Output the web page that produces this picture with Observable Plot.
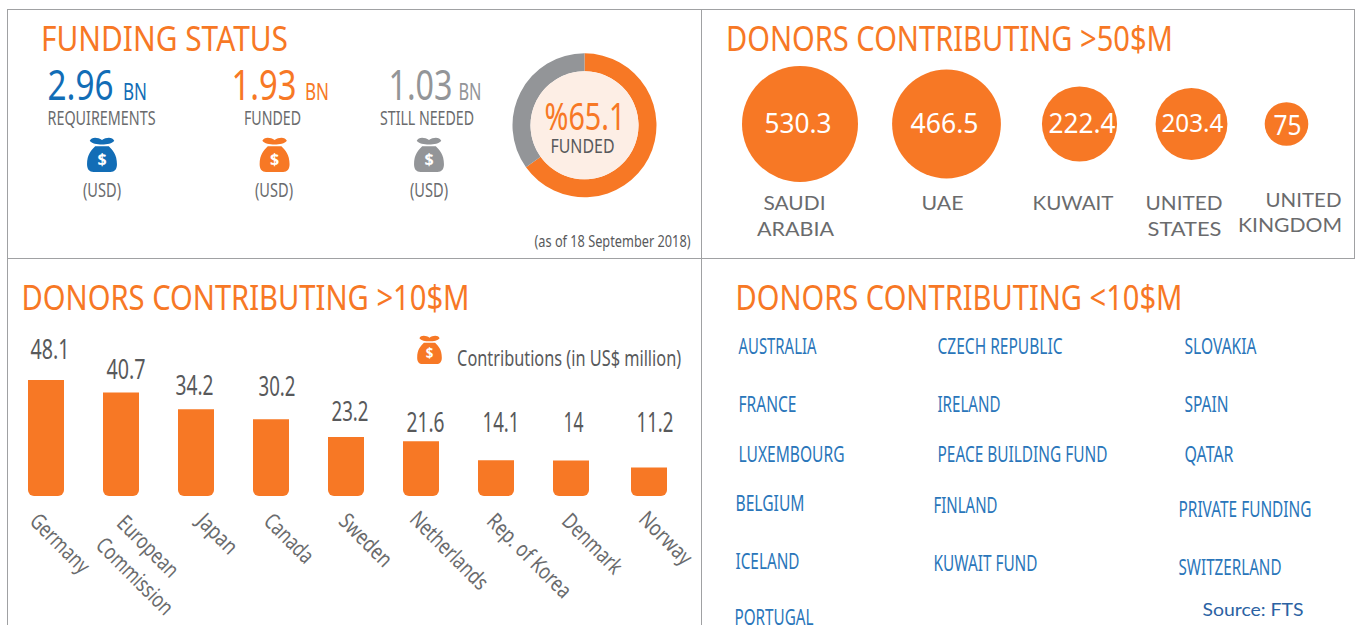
<!DOCTYPE html>
<html>
<head>
<meta charset="utf-8">
<script src="https://cdn.jsdelivr.net/npm/d3@7"></script>
<script src="https://cdn.jsdelivr.net/npm/@observablehq/plot@0.6"></script>
<style>
html,body{margin:0;padding:0;background:#fff;width:1356px;height:625px;overflow:hidden}
#page{position:relative;width:1356px;height:625px}
.line{position:absolute;background:#a0a1a3}
svg{position:absolute;left:0;top:0;background:transparent}
</style>
</head>
<body>
<div id="page">
<div class="line" style="left:7px;top:9px;width:1347px;height:1px"></div>
<div class="line" style="left:7px;top:258px;width:1347px;height:1px"></div>
<div class="line" style="left:7px;top:9px;width:1px;height:616px"></div>
<div class="line" style="left:701px;top:9px;width:1px;height:616px"></div>
<div class="line" style="left:1354px;top:9px;width:1px;height:250px"></div>
</div>
<script>
// ---- data ----
const kpiValues = ["2.96", "1.93", "1.03"];
const kpiLabels = ["REQUIREMENTS", "FUNDED", "STILL NEEDED"];
const fundedShare = [65.1, 34.9];
const largeDonors = ["SAUDI ARABIA", "UAE", "KUWAIT", "UNITED STATES", "UNITED KINGDOM"];
const largeAmounts = [530.3, 466.5, 222.4, 203.4, 75];
const midDonors = ["Germany", "European Commission", "Japan", "Canada", "Sweden", "Netherlands", "Rep. of Korea", "Denmark", "Norway"];
const midLabels = ["48.1", "40.7", "34.2", "30.2", "23.2", "21.6", "14.1", "14", "11.2"];
const midBarLengths = [45.7, 40.7, 34.2, 30.2, 23.2, 21.6, 14.1, 14, 11.2];
const smallDonors = ["AUSTRALIA", "CZECH REPUBLIC", "SLOVAKIA", "FRANCE", "IRELAND", "SPAIN", "LUXEMBOURG", "PEACE BUILDING FUND", "QATAR", "BELGIUM", "FINLAND", "PRIVATE FUNDING", "ICELAND", "KUWAIT FUND", "SWITZERLAND", "PORTUGAL"];

// ---- styles and layout ----
const ORANGE = "#f77825", BLUE = "#126db6", GREY = "#939598", TEXT = "#6a6b6d", DARK = "#58595b", LIST = "#2a76ba";
const BODY = "'Noto Sans'", WIDE = "Lato";

// text fitted to a given width: the condensed look of the original face
function fit(w) {
  return (index, scales, values, dims, ctx, next) => {
    const g = next(index, scales, values, dims, ctx);
    if (w) g.querySelectorAll("text").forEach(t => {
      t.setAttribute("textLength", w);
      t.setAttribute("lengthAdjust", "spacingAndGlyphs");
    });
    return g;
  };
}
function note(text, x, y, size, fill, w, o = {}) {
  return Plot.text([text], {
    text: d => d, frameAnchor: "top-left", dx: x - 1, dy: y - 1, lineAnchor: "bottom",
    textAnchor: o.anchor || "start", fontSize: size, fill, fontFamily: o.font || BODY,
    fontWeight: o.weight || 400, render: fit(w)
  });
}
// money bag as a custom dot symbol
const bagSymbol = {
  draw(c, size) {
    const R = Math.sqrt(size / Math.PI), p = (x, y) => [x * R, y * R];
    c.moveTo(...p(-.72, -.84));
    c.bezierCurveTo(...p(-.62, -1.08), ...p(-.25, -1.06), ...p(0, -.88));
    c.bezierCurveTo(...p(.25, -1.06), ...p(.62, -1.08), ...p(.72, -.84));
    c.bezierCurveTo(...p(.6, -.66), ...p(.3, -.62), ...p(0, -.62));
    c.bezierCurveTo(...p(-.3, -.62), ...p(-.6, -.66), ...p(-.72, -.84));
    c.closePath();
    c.moveTo(...p(-.4, -.52));
    c.lineTo(...p(.4, -.52));
    c.bezierCurveTo(...p(.62, -.3), ...p(.88, -.05), ...p(.88, .55));
    c.bezierCurveTo(...p(.88, .85), ...p(.74, 1), ...p(.5, 1));
    c.lineTo(...p(-.5, 1));
    c.bezierCurveTo(...p(-.74, 1), ...p(-.88, .85), ...p(-.88, .55));
    c.bezierCurveTo(...p(-.88, -.05), ...p(-.62, -.3), ...p(-.4, -.52));
    c.closePath();
  }
};
function bag(cx, cy, r, fill) {
  return [
    Plot.dot([0], {frameAnchor: "top-left", dx: cx - .5, dy: cy - .5, r, fill, stroke: "none", symbol: bagSymbol}),
    note("$", cx + .5, cy + r * .62, r * .95, "#fff", r * .54, {anchor: "middle", weight: 700})
  ];
}

// donut drawn from fundedShare with d3 arcs inside a Plot mark
function donut(cx, cy, outer, inner) {
  return () => {
    const g = d3.create("svg:g").attr("transform", `translate(${cx},${cy})`);
    g.selectAll("path").data(d3.pie().sort(null)(fundedShare)).join("path")
      .attr("d", d3.arc().innerRadius(inner).outerRadius(outer))
      .attr("fill", (d, i) => [ORANGE, GREY][i]);
    g.append("circle").attr("r", inner).attr("fill", "#fdeee5");
    return g.node();
  };
}

const bubbleRows = largeDonors.map((name, i) => ({name, value: largeAmounts[i]}));
const bubbleX = [799.5, 946, 1079, 1191, 1286];
const bubbleY = 123.5;
const bubbleText = [[765, 67, 28, 133], [911, 68, 28, 133], [1049, 67, 28, 133], [1162, 62, 25, 132], [1274, 28, 28, 135]];

const barRows = midDonors.map((name, i) => ({name, length: midBarLengths[i], label: midLabels[i]}));
// offsets of the value labels from the bar tops, and of the slanted names from the bar feet
const labelDx = [3.5, 4.5, -2, 5.5, 3.5, 4, 4.5, 2, 8.5];
const labelDy = [-21, -14, -15, -24, -17, -10, -29, -29, -36];
const labelW  = [39, 39, 38, 37, 37, 38, 37, 20, 37];
const slant = [["Germany", -18, 26, 74], ["European", -6, 28, 77], ["Commission", -27, 50, 99], ["Japan", -1, 26, 47], ["Canada", -9, 26, 60], ["Sweden", -9, 26, 65], ["Netherlands", -13, 24, 100], ["Rep. of Korea", -11, 26, 109], ["Denmark", -11, 26, 75], ["Norway", -9, 24, 65]];
const slantBar = ["Germany", "European Commission", "European Commission", "Japan", "Canada", "Sweden", "Netherlands", "Rep. of Korea", "Denmark", "Norway"];

const listPlace = [[739, 354, 78], [938, 354, 125], [1185, 354, 72], [739, 412, 58], [938, 412, 63], [1185, 412, 44], [739, 462, 106], [938, 462, 170], [1185, 462, 49], [736, 511, 69], [934, 513, 64], [1179, 517, 133], [736, 569, 64], [934, 571, 104], [1179, 575, 103], [735, 625, 79]];

const chart = Plot.plot({
  width: 1356, height: 625, margin: 0,
  style: {background: "transparent"},
  x: {type: "band", domain: midDonors, range: [28, 664], paddingInner: .52, paddingOuter: 0, align: 0, axis: null},
  y: {domain: [0, 50], range: [496, 369], axis: null},
  r: {type: "sqrt", domain: [0, 530.3], range: [0, 58]},
  marks: [
    // funding status
    note("FUNDING STATUS", 41.5, 51, 34, ORANGE, 247),
    note(kpiValues[0], 48, 100, 42, BLUE, 66),
    note("BN", 123.5, 100, 24, BLUE, 24),
    note(kpiLabels[0], 48, 125, 20, TEXT, 108),
    ...bag(102, 155, 17, BLUE),
    note("(USD)", 83.5, 197, 19, TEXT, 38),
    note(kpiValues[1], 232, 100, 42, ORANGE, 65),
    note("BN", 305.5, 100, 24, ORANGE, 24),
    note(kpiLabels[1], 244.5, 125, 20, TEXT, 57),
    ...bag(274.6, 155, 17, ORANGE),
    note("(USD)", 255.5, 197, 19, TEXT, 38),
    note(kpiValues[2], 389, 100, 42, GREY, 64),
    note("BN", 459, 100, 24, GREY, 23),
    note(kpiLabels[2], 380.5, 125, 20, TEXT, 94),
    ...bag(429, 155, 17, GREY),
    note("(USD)", 410.5, 197, 19, TEXT, 38),
    donut(584.5, 125.3, 72, 54),
    note("%" + fundedShare[0], 545, 130, 38, ORANGE, 81),
    note("FUNDED", 551, 153, 20, DARK, 64),
    note("(as of 18 September 2018)", 535, 247, 16, DARK, 156),

    // donors > 50
    note("DONORS CONTRIBUTING >50$M", 726.5, 51, 34, ORANGE, 447),
    ...bubbleRows.map((row, i) => Plot.dot([row], {frameAnchor: "top-left", dx: bubbleX[i], dy: bubbleY, r: "value", fill: ORANGE})),
    ...bubbleRows.map((row, i) => note(String(row.value), bubbleText[i][0], bubbleText[i][3], bubbleText[i][2], "#fff", bubbleText[i][1])),
    note("SAUDI", 764, 210, 20, TEXT, 62, {font: WIDE}),
    note("ARABIA", 757.5, 236, 20, TEXT, 77, {font: WIDE}),
    note("UAE", 922, 210, 20, TEXT, 42, {font: WIDE}),
    note("KUWAIT", 1033, 210, 20, TEXT, 81, {font: WIDE}),
    note("UNITED", 1146, 210, 20, TEXT, 77, {font: WIDE}),
    note("STATES", 1148, 236, 20, TEXT, 74, {font: WIDE}),
    note("UNITED", 1266, 207, 20, TEXT, 76, {font: WIDE}),
    note("KINGDOM", 1238.5, 232, 20, TEXT, 104, {font: WIDE}),

    // donors > 10
    note("DONORS CONTRIBUTING >10$M", 22, 310, 34, ORANGE, 448),
    ...barRows.map((row, i) => Plot.barY([row], {x: "name", y: "length", fill: ORANGE, ry2: 6, dx: row.name === "Norway" ? 3 : 0})),
    ...barRows.map((row, i) => Plot.text([row], {x: "name", y: "length", text: "label", dx: labelDx[i], dy: labelDy[i], lineAnchor: "bottom", fontSize: 27, fill: DARK, fontFamily: BODY, render: fit(labelW[i])})),
    ...slant.map(([text, dx, dy, w], i) => Plot.text([text], {x: () => slantBar[i], y: () => 0, text: d => d, dx, dy, rotate: 45, textAnchor: "start", lineAnchor: "bottom", fontSize: 22, fill: TEXT, fontFamily: BODY, render: fit(w)})),
    ...bag(429.5, 350, 14, ORANGE),
    note("Contributions (in US$ million)", 457.6, 366, 22, DARK, 224),

    // donors < 10
    note("DONORS CONTRIBUTING <10$M", 736, 310, 34, ORANGE, 447),
    ...smallDonors.map((name, i) => note(name, listPlace[i][0], listPlace[i][1], 21, LIST, listPlace[i][2])),
    note("Source: FTS", 1203, 616, 18, "#2b62a3", 101, {font: WIDE})
  ]
});
document.getElementById("page").appendChild(chart);
</script>
</body>
</html>
